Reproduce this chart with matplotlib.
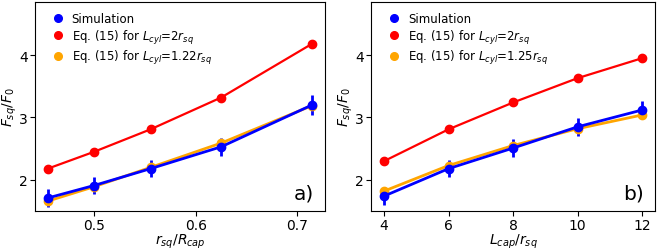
import matplotlib
matplotlib.use("Agg")
import matplotlib.pyplot as plt
from matplotlib.lines import Line2D

# panel a) : x = r_sq / R_cap
xa = [5 / 11, 5 / 10, 5 / 9, 5 / 8, 5 / 7]
sim_a = [1.71, 1.91, 2.18, 2.53, 3.20]
sim_a_err = [0.14, 0.13, 0.14, 0.14, 0.16]
red_a = [2.18, 2.45, 2.81, 3.32, 4.18]
orange_a = [1.66, 1.89, 2.20, 2.59, 3.19]

# panel b) : x = L_cap / r_sq
xb = [4, 6, 8, 10, 12]
sim_b = [1.74, 2.18, 2.51, 2.85, 3.12]
sim_b_err = [0.14, 0.14, 0.14, 0.14, 0.15]
red_b = [2.30, 2.81, 3.24, 3.63, 3.95]
orange_b = [1.82, 2.23, 2.55, 2.82, 3.04]

fig = plt.figure(figsize=(6.65, 2.51), dpi=100)
ax1 = fig.add_axes([0.052, 0.155, 0.437, 0.833])
ax2 = fig.add_axes([0.558, 0.155, 0.427, 0.833])


def draw(ax, x, sim, err, red, orange, lcyl, xlabel, tag):
    ax.errorbar(x, sim, yerr=err, color="blue", marker="o", ms=6, lw=2,
                elinewidth=2, capsize=0)
    ax.plot(x, red, color="red", marker="o", ms=6, lw=1.6)
    ax.plot(x, orange, color="orange", marker="o", ms=6, lw=2)
    ax.set_ylim(1.5, 4.85)
    ax.set_yticks([2, 3, 4])
    ax.set_xlabel(xlabel, fontsize=10, labelpad=0)
    ax.set_ylabel(r"$F_{sq}/F_0$", fontsize=10, labelpad=0)
    ax.tick_params(labelsize=10, pad=1.5)
    ax.text(0.96, 0.04, tag, transform=ax.transAxes, fontsize=14.5,
            ha="right", va="bottom")
    # markers only in the legend
    handles = [Line2D([], [], ls="none", marker="o", ms=5.5, color=c)
               for c in ("blue", "red", "orange")]
    labels = ["Simulation",
              r"Eq. (15) for $L_{cyl}$=2$r_{sq}$",
              r"Eq. (15) for $L_{cyl}$=" + lcyl + r"$r_{sq}$"]
    ax.legend(handles, labels, loc="upper left", frameon=False, fontsize=8.5,
              handlelength=0.8, handletextpad=0.75, labelspacing=0.2,
              borderaxespad=0.3, bbox_to_anchor=(0.036, 0.99))


draw(ax1, xa, sim_a, sim_a_err, red_a, orange_a, "1.22", r"$r_{sq}/R_{cap}$", "a)")
ax1.set_xticks([0.5, 0.6, 0.7])
draw(ax2, xb, sim_b, sim_b_err, red_b, orange_b, "1.25", r"$L_{cap}/r_{sq}$", "b)")
ax2.set_xticks([4, 6, 8, 10, 12])

fig.savefig("out.png", dpi=100)
